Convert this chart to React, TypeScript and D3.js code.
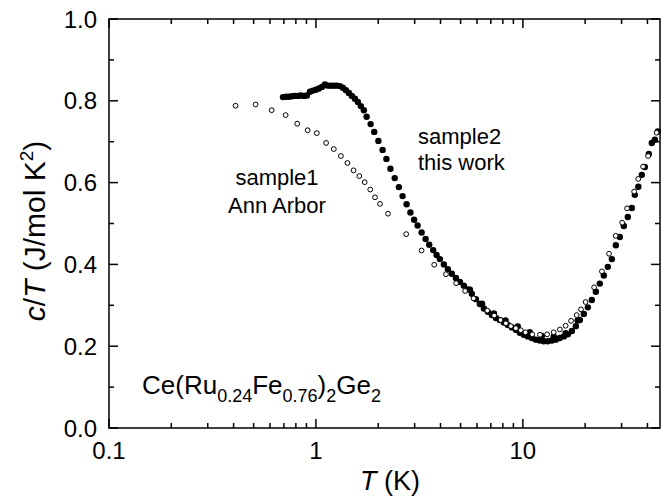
import React from "react";
import * as d3 from "d3";

const W = 661;
const H = 496;

const xDomain = [0.1, 46];
const yDomain = [0, 1];
const xMajorTicks = [0.1, 1, 10];
const xMajorLabels = ["0.1", "1", "10"];
const yMajorTicks = [0, 0.2, 0.4, 0.6, 0.8, 1.0];
const yMajorLabels = ["0.0", "0.2", "0.4", "0.6", "0.8", "1.0"];
const yMinorTicks = [0.1, 0.3, 0.5, 0.7, 0.9];

// sample1 (Ann Arbor), open circles
const sample1T = [
  0.409, 0.511, 0.611, 0.714, 0.812, 0.912, 1.01, 1.12, 1.22, 1.32, 1.42, 1.52, 1.62, 1.72,
  1.83, 1.93, 2.04, 2.23, 2.73, 3.24, 3.73, 4.25, 4.76, 5.26, 5.78, 6.73, 7.27, 7.8, 8.28,
  8.75, 9.25, 9.78, 10.3, 11.1, 12.1, 13.1, 14.1, 15.1, 16.1, 17.1, 18.2, 19.1, 20.1, 22.1,
  24.1, 26.1, 28.1, 30.2, 31.9, 34.5, 36.1, 38.1, 40.3, 44.3,
];
const sample1V = [
  0.788, 0.791, 0.777, 0.765, 0.744, 0.728, 0.721, 0.697, 0.682, 0.665, 0.648, 0.63, 0.616,
  0.601, 0.583, 0.564, 0.548, 0.524, 0.474, 0.434, 0.399, 0.376, 0.354, 0.335, 0.317, 0.287,
  0.275, 0.264, 0.256, 0.249, 0.244, 0.239, 0.234, 0.229, 0.228, 0.229, 0.234, 0.241, 0.25,
  0.262, 0.276, 0.29, 0.308, 0.344, 0.383, 0.426, 0.47, 0.502, 0.537, 0.578, 0.609, 0.639,
  0.665, 0.722,
];

// sample2 (this work), filled circles
const sample2T = [
  0.693, 0.716, 0.741, 0.766, 0.792, 0.818, 0.846, 0.875, 0.905, 0.936, 0.967, 1.0, 1.034,
  1.069, 1.105, 1.143, 1.182, 1.222, 1.263, 1.306, 1.35, 1.396, 1.443, 1.492, 1.543, 1.595,
  1.649, 1.705, 1.758, 1.838, 1.913, 2.004, 2.1, 2.191, 2.291, 2.403, 2.518, 2.623, 2.743,
  2.861, 2.982, 3.1, 3.241, 3.388, 3.527, 3.687, 3.829, 3.972, 4.153, 4.342, 4.539, 4.747,
  4.962, 5.188, 5.424, 5.671, 5.929, 6.199, 6.48, 6.775, 7.083, 7.406, 7.743, 8.095, 8.462,
  8.85, 9.252, 9.672, 10.11, 10.57, 11.05, 11.56, 12.08, 12.63, 13.21, 13.81, 14.43, 15.09,
  15.78, 16.5, 17.25, 18.03, 18.86, 19.71, 20.61, 21.54, 22.53, 23.55, 24.62, 25.74, 26.92,
  28.14, 29.42, 30.76, 32.16, 33.62, 34.76, 36.14, 37.58, 38.85, 40.62, 42.0, 43.43, 44.9,
  5.55, 6.35, 7.25, 8.25, 9.45, 10.8, 12.35, 14.1, 16.1, 18.4,
];
const sample2V = [
  0.809, 0.81, 0.81, 0.811, 0.812, 0.812, 0.813, 0.812, 0.813, 0.822, 0.825, 0.827, 0.83,
  0.834, 0.84, 0.837, 0.837, 0.837, 0.837, 0.836, 0.832, 0.826, 0.819, 0.812, 0.805, 0.797,
  0.787, 0.777, 0.761, 0.743, 0.724, 0.702, 0.68, 0.658, 0.634, 0.611, 0.589, 0.567, 0.547,
  0.527, 0.509, 0.495, 0.478, 0.462, 0.448, 0.435, 0.423, 0.413, 0.4, 0.388, 0.377, 0.367,
  0.357, 0.348, 0.339, 0.328, 0.315, 0.303, 0.292, 0.284, 0.276, 0.269, 0.264, 0.258, 0.252,
  0.246, 0.24, 0.233, 0.228, 0.224, 0.22, 0.216, 0.214, 0.212, 0.212, 0.214, 0.216, 0.22,
  0.224, 0.229, 0.237, 0.249, 0.264, 0.279, 0.295, 0.313, 0.333, 0.353, 0.373, 0.394, 0.413,
  0.447, 0.467, 0.494, 0.516, 0.538, 0.57, 0.59, 0.619, 0.638, 0.67, 0.697, 0.705, 0.725,
  0.338, 0.304, 0.28, 0.263, 0.248, 0.234, 0.225, 0.224, 0.232, 0.263,
];

const FONT = "'Liberation Sans', Arial, Helvetica, sans-serif";

export default function App() {
  const left = 109;
  const right = 660;
  const top = 19;
  const bottom = 428;
  const x = d3.scaleLog().domain(xDomain).range([left, right]);
  const y = d3.scaleLinear().domain(yDomain).range([bottom, top]);

  const xMinor: number[] = [];
  for (let e = -1; e <= 1; e++) {
    for (let k = 2; k <= 9; k++) {
      const v = k * Math.pow(10, e);
      if (v < xDomain[1]) xMinor.push(v);
    }
  }

  const s1 = sample1T.map((t, i) => ({ t, v: sample1V[i] }));
  const s2 = sample2T.map((t, i) => ({ t, v: sample2V[i] }));

  const majLen = 9;
  const minLen = 5;

  return (
    <svg
      width={W}
      height={H}
      style={{ position: "absolute", left: 0, top: 0, background: "#fff" }}
      fontFamily={FONT}
    >
      <rect x={0} y={0} width={W} height={H} fill="#fff" />
      <rect x={left} y={top} width={right - left} height={bottom - top} fill="none" stroke="#000" strokeWidth={1.5} />

      {xMajorTicks.map((t, i) => (
        <g key={"xm" + i}>
          <line x1={x(t)} x2={x(t)} y1={bottom} y2={bottom - majLen} stroke="#000" strokeWidth={1.5} />
          <line x1={x(t)} x2={x(t)} y1={top} y2={top + majLen} stroke="#000" strokeWidth={1.5} />
          <text x={x(t)} y={459} fontSize={24} textAnchor="middle">{xMajorLabels[i]}</text>
        </g>
      ))}
      {xMinor.map((t, i) => (
        <g key={"xn" + i}>
          <line x1={x(t)} x2={x(t)} y1={bottom} y2={bottom - minLen} stroke="#000" strokeWidth={1.5} />
          <line x1={x(t)} x2={x(t)} y1={top} y2={top + minLen} stroke="#000" strokeWidth={1.5} />
        </g>
      ))}

      {yMajorTicks.map((v, i) => (
        <g key={"ym" + i}>
          <line x1={left} x2={left + majLen} y1={y(v)} y2={y(v)} stroke="#000" strokeWidth={1.5} />
          <line x1={right} x2={right - majLen} y1={y(v)} y2={y(v)} stroke="#000" strokeWidth={1.5} />
          <text x={97} y={y(v) + 8.5} fontSize={24} textAnchor="end">{yMajorLabels[i]}</text>
        </g>
      ))}
      {yMinorTicks.map((v, i) => (
        <g key={"yn" + i}>
          <line x1={left} x2={left + minLen} y1={y(v)} y2={y(v)} stroke="#000" strokeWidth={1.5} />
          <line x1={right} x2={right - minLen} y1={y(v)} y2={y(v)} stroke="#000" strokeWidth={1.5} />
        </g>
      ))}

      {s2.map((d, i) => (
        <circle key={"b" + i} cx={x(d.t)} cy={y(d.v)} r={3.2} fill="#000" />
      ))}
      {s1.map((d, i) => (
        <circle key={"a" + i} cx={x(d.t)} cy={y(d.v)} r={2.4} fill="#fff" stroke="#000" strokeWidth={1} />
      ))}

      <text x={277} y={185} fontSize={22} textAnchor="middle">sample1</text>
      <text x={277} y={213} fontSize={22} textAnchor="middle">Ann Arbor</text>
      <text x={418} y={144} fontSize={22}>sample2</text>
      <text x={418} y={170} fontSize={22}>this work</text>

      <text x={142} y={394} fontSize={26}>
        <tspan>Ce(Ru</tspan>
        <tspan fontSize={18} dy={8}>0.24</tspan>
        <tspan dy={-8}>Fe</tspan>
        <tspan fontSize={18} dy={8}>0.76</tspan>
        <tspan dy={-8}>)</tspan>
        <tspan fontSize={18} dy={8}>2</tspan>
        <tspan dy={-8}>Ge</tspan>
        <tspan fontSize={18} dy={8}>2</tspan>
      </text>

      <text x={390} y={490} fontSize={27} textAnchor="middle">
        <tspan fontStyle="italic">T</tspan>
        <tspan> (K)</tspan>
      </text>
      <text transform={`translate(45, 231) rotate(-90)`} fontSize={30} textAnchor="middle">
        <tspan fontStyle="italic">c</tspan>
        <tspan>/</tspan>
        <tspan fontStyle="italic">T</tspan>
        <tspan> (J/mol K</tspan>
        <tspan fontSize={19} dy={-12}>2</tspan>
        <tspan dy={12}>)</tspan>
      </text>
    </svg>
  );
}
